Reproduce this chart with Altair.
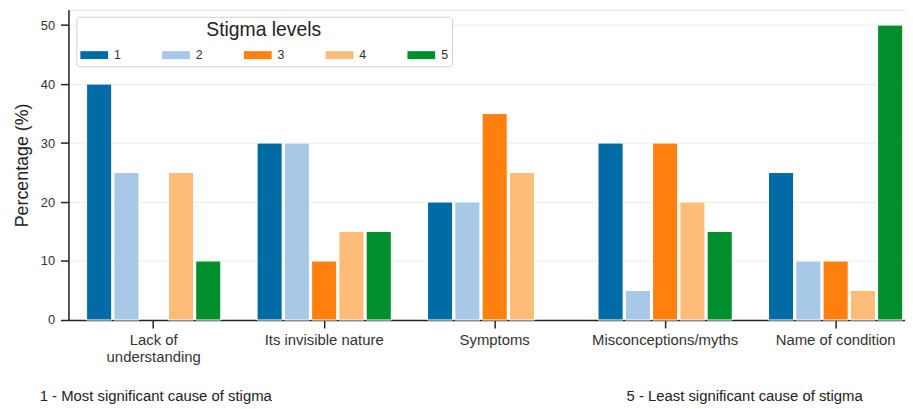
import altair as alt
import pandas as pd

categories = ["Lack of understanding", "Its invisible nature", "Symptoms",
              "Misconceptions/myths", "Name of condition"]
levels = ["1", "2", "3", "4", "5"]
level1 = [40, 30, 20, 30, 25]
level2 = [25, 30, 20, 5, 10]
level3 = [0, 10, 35, 30, 10]
level4 = [25, 15, 25, 20, 5]
level5 = [10, 15, 0, 15, 50]
colors = ["#006BA4", "#A8C8E8", "#FF800E", "#FFBC79", "#008F2C"]
notes = ["1 - Most significant cause of stigma", "5 - Least significant cause of stigma"]

rows = []
for lv, vals in zip(levels, [level1, level2, level3, level4, level5]):
    for c, v in zip(categories, vals):
        if v > 0:
            rows.append({"cause": c, "level": lv, "pct": v})
df = pd.DataFrame(rows)

FONT = "Liberation Sans"

bars = alt.Chart(df).mark_bar(stroke="white", strokeWidth=1).encode(
    x=alt.X("cause:N", sort=categories,
            scale=alt.Scale(paddingInner=0.2, paddingOuter=0.1),
            axis=alt.Axis(title=None, labelAngle=0, labelFontSize=15, labelColor="#333",
                          labelFont=FONT, tickSize=8, tickColor="#222", tickWidth=1.5,
                          domainColor="#222", domainWidth=1.5, labelPadding=5,
                          labelLineHeight=17, grid=False,
                          labelExpr="datum.value == 'Lack of understanding' ? ['Lack of', 'understanding'] : datum.value")),
    xOffset=alt.XOffset("level:N", sort=levels,
                        scale=alt.Scale(paddingInner=0.08, paddingOuter=0.04)),
    y=alt.Y("pct:Q", scale=alt.Scale(domain=[0, 52.6], nice=False, zero=True),
            axis=alt.Axis(title="Percentage (%)", values=[0, 10, 20, 30, 40, 50],
                          titleFontSize=18, titleFontWeight="normal", titleColor="#222",
                          titleFont=FONT, titlePadding=9,
                          labelFontSize=13, labelColor="#333", labelFont=FONT,
                          tickSize=8, tickColor="#222", tickWidth=1.5, labelPadding=6,
                          domainColor="#222", domainWidth=1.5,
                          grid=True, gridColor="#ececec", gridWidth=1)),
    color=alt.Color("level:N", sort=levels,
                    scale=alt.Scale(domain=levels, range=colors),
                    legend=alt.Legend(title="Stigma levels", orient="none", legendX=8, legendY=7,
                                      direction="horizontal", columns=5,
                                      symbolType="M-1,-0.2857H1V0.2857H-1Z", symbolSize=784,
                                      symbolStrokeWidth=0, symbolOpacity=1,
                                      labelFontSize=12.5, labelColor="#333", labelFont=FONT,
                                      labelOffset=6, columnPadding=41.5,
                                      titleFontSize=19.5, titleFontWeight="normal", titleColor="#222",
                                      titleFont=FONT, titleAnchor="middle", titlePadding=1,
                                      padding=4, strokeColor="#d0d0d0", fillColor="white",
                                      cornerRadius=3)),
)

note_df = pd.DataFrame({"text": notes})
note1 = alt.Chart(note_df).transform_filter(alt.datum.text == notes[0]).mark_text(
    align="left", baseline="middle", fontSize=15, font=FONT, color="#222"
).encode(text="text:N", x=alt.value(-29), y=alt.value(390))
note2 = alt.Chart(note_df).transform_filter(alt.datum.text == notes[1]).mark_text(
    align="left", baseline="middle", fontSize=15, font=FONT, color="#222"
).encode(text="text:N", x=alt.value(563), y=alt.value(390))

chart = alt.layer(bars, note1, note2).properties(
    width=860, height=313,
    autosize=alt.AutoSizeParams(type="none"),
    padding={"left": 61, "top": 0, "right": -16, "bottom": 88},
).configure_view(stroke=None).configure(font=FONT)

chart.save("out.html", embed_options={"renderer": "svg", "actions": False})
